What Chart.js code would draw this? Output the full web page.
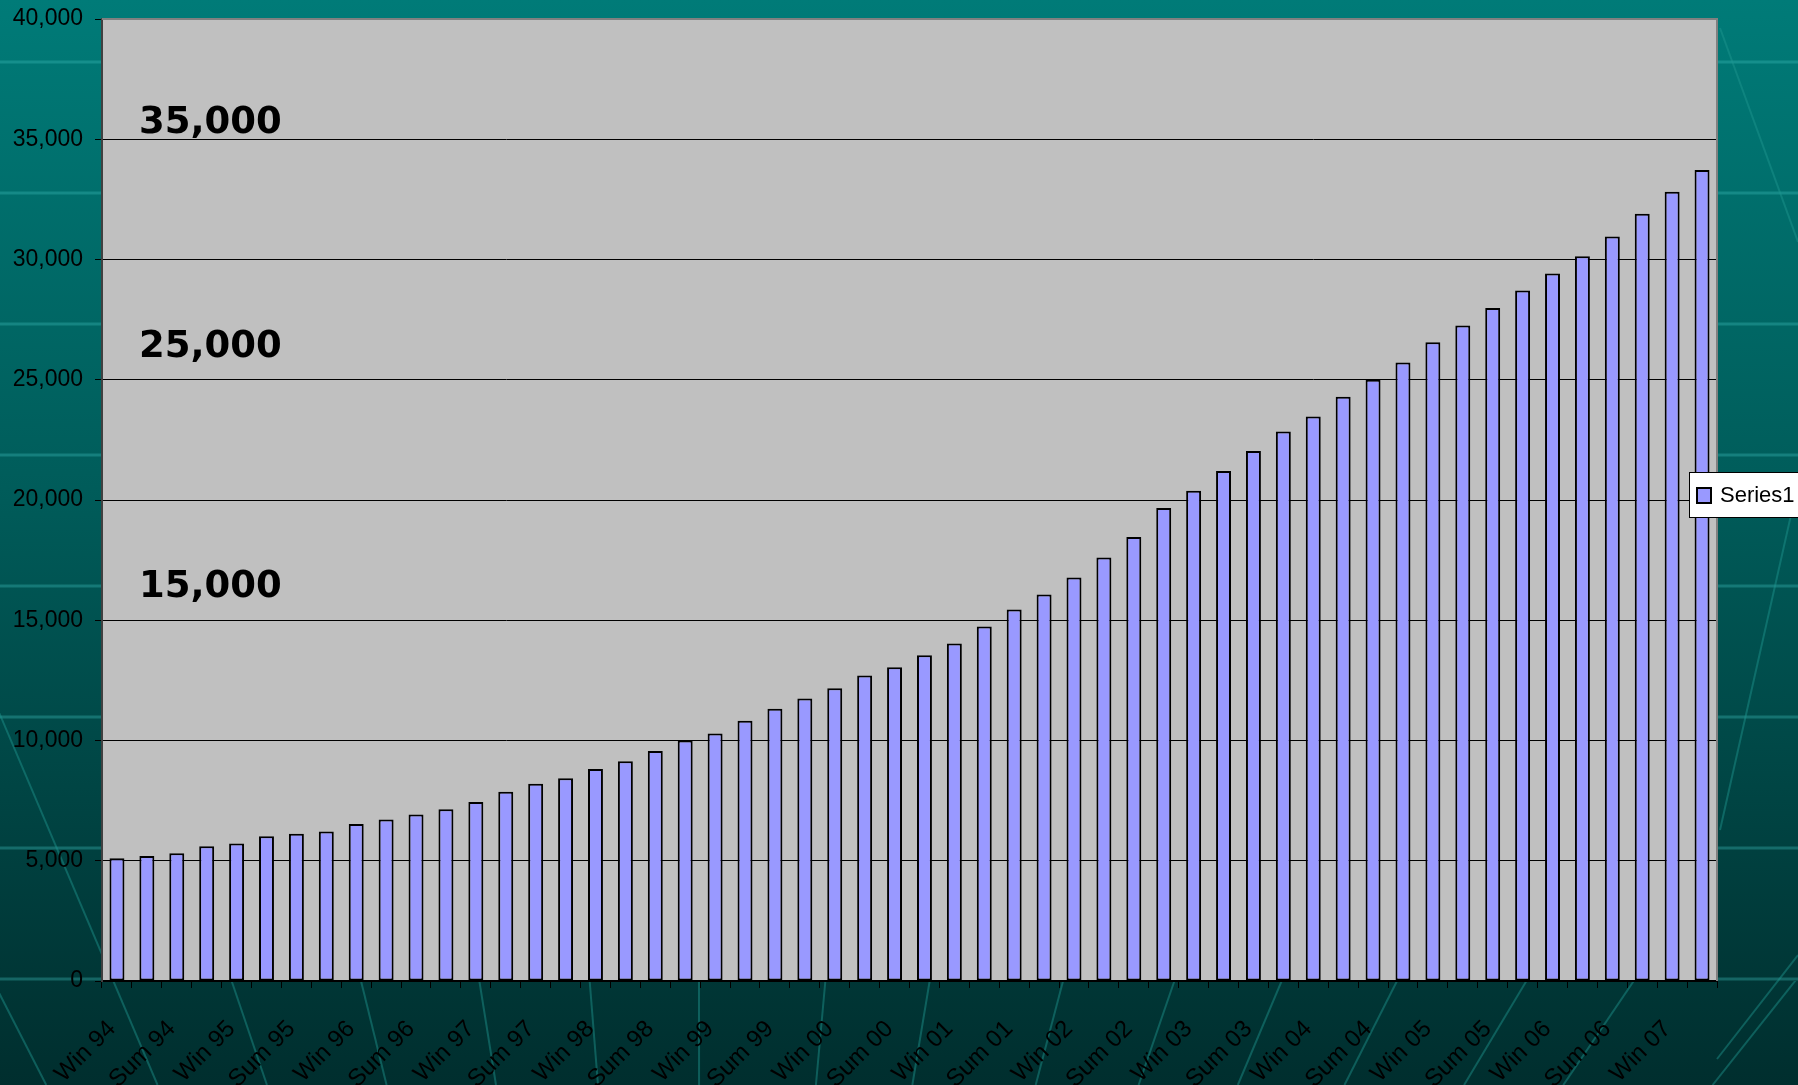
<!DOCTYPE html>
<html>
<head>
<meta charset="utf-8">
<script src="https://cdn.jsdelivr.net/npm/chart.js@4.4.1/dist/chart.umd.min.js"></script>
<style>
  html, body { margin: 0; padding: 0; background: #004f4d; }
  #wrap { width: 1798px; height: 1085px; position: relative; }
</style>
</head>
<body>
<div id="wrap"><canvas id="chart"></canvas></div>
<script>
// categories (only every other one gets a tick label, like the original)
const categories = [
  'Win 94', 'Spr 94', 'Sum 94', 'Fall 94',
  'Win 95', 'Spr 95', 'Sum 95', 'Fall 95',
  'Win 96', 'Spr 96', 'Sum 96', 'Fall 96',
  'Win 97', 'Spr 97', 'Sum 97', 'Fall 97',
  'Win 98', 'Spr 98', 'Sum 98', 'Fall 98',
  'Win 99', 'Spr 99', 'Sum 99', 'Fall 99',
  'Win 00', 'Spr 00', 'Sum 00', 'Fall 00',
  'Win 01', 'Spr 01', 'Sum 01', 'Fall 01',
  'Win 02', 'Spr 02', 'Sum 02', 'Fall 02',
  'Win 03', 'Spr 03', 'Sum 03', 'Fall 03',
  'Win 04', 'Spr 04', 'Sum 04', 'Fall 04',
  'Win 05', 'Spr 05', 'Sum 05', 'Fall 05',
  'Win 06', 'Spr 06', 'Sum 06', 'Fall 06',
  'Win 07', 'Spr 07'
];

// Series1 values
const series1 = [
  5100, 5200, 5310, 5600, 5720, 6020, 6120, 6220, 6530, 6720,
  6920, 7140, 7440, 7870, 8200, 8430, 8820, 9140, 9560, 10000,
  10290, 10820, 11320, 11750, 12170, 12700, 13050, 13540, 14030, 14740,
  15450, 16070, 16780, 17610, 18460, 19670, 20380, 21210, 22040, 22850,
  23470, 24290, 25000, 25720, 26560, 27260, 27980, 28710, 29420, 30140,
  30960, 31900, 32820, 33720
];

// big text notes on the left of the plot
const notes = ['35,000', '25,000', '15,000'];
const notesY = [133, 357, 597];

// background: gradient, faint lines, gray plot area
const backdrop = {
    id: 'backdrop',
    beforeDraw(chart) {
        const ctx = chart.ctx;
        const w = chart.width, h = chart.height;
        const a = chart.chartArea;
        ctx.save();
        const g = ctx.createLinearGradient(0, 0, 0, h);
        g.addColorStop(0, '#007b78');
        g.addColorStop(0.45, '#005c5a');
        g.addColorStop(1, '#002e2e');
        ctx.fillStyle = g;
        ctx.fillRect(0, 0, w, h);

        // horizontal stripes
        ctx.strokeStyle = 'rgba(60,190,185,0.35)';
        ctx.lineWidth = 3;
        for (let y = 62; y < h; y += 131) {
            ctx.beginPath();
            ctx.moveTo(0, y);
            ctx.lineTo(w, y);
            ctx.stroke();
        }

        // rays under the axis and in the left margin
        ctx.save();
        ctx.beginPath();
        ctx.rect(0, 0, a.left, h);
        ctx.rect(a.left, a.bottom, w - a.left, h - a.bottom);
        ctx.clip();
        const vx = 700, vy = 2360;
        const xs = [-5, 115, 233, 362, 480, 590, 699, 825, 929, 1062, 1173, 1280, 1395, 1524, 1631, 1792];
        ctx.strokeStyle = 'rgba(30,150,145,0.45)';
        ctx.lineWidth = 2;
        xs.forEach(x => {
            const k = (x - vx) / (985 - vy);
            const y0 = 600;
            ctx.beginPath();
            ctx.moveTo(x + k * (y0 - 985), y0);
            ctx.lineTo(x + k * (h - 985), h);
            ctx.stroke();
        });
        ctx.restore();

        // a few strokes in the right margin
        ctx.strokeStyle = 'rgba(30,150,145,0.45)';
        ctx.lineWidth = 2;
        [[1717, 1059, 1798, 955], [1720, 830, 1798, 484], [1720, 28, 1798, 242]].forEach(s => {
            ctx.beginPath();
            ctx.moveTo(s[0], s[1]);
            ctx.lineTo(s[2], s[3]);
            ctx.stroke();
        });

        ctx.fillStyle = '#c0c0c0';
        ctx.fillRect(a.left, a.top, a.right - a.left, a.bottom - a.top);
        ctx.restore();
    },
    afterDatasetsDraw(chart) {
        const ctx = chart.ctx;
        const a = chart.chartArea;
        ctx.save();
        ctx.strokeStyle = '#808080';
        ctx.lineWidth = 2;
        ctx.beginPath();
        ctx.moveTo(a.left, a.top);
        ctx.lineTo(a.right, a.top);
        ctx.lineTo(a.right, a.bottom);
        ctx.stroke();

        // notes
        ctx.fillStyle = '#000';
        ctx.font = 'bold 37px "DejaVu Sans"';
        ctx.textAlign = 'left';
        ctx.textBaseline = 'alphabetic';
        notes.forEach((t, i) => ctx.fillText(t, a.left + 37, notesY[i]));

        // legend box
        const ds = chart.data.datasets[0];
        ctx.fillStyle = '#fff';
        ctx.fillRect(1689, 472, 140, 45);
        ctx.strokeStyle = '#000';
        ctx.lineWidth = 1;
        ctx.strokeRect(1689.5, 472.5, 140, 45);
        ctx.fillStyle = ds.backgroundColor;
        ctx.fillRect(1697, 488, 14, 15);
        ctx.lineWidth = 2;
        ctx.strokeRect(1697, 488, 14, 15);
        ctx.fillStyle = '#000';
        ctx.font = '22px "Liberation Sans"';
        ctx.textBaseline = 'middle';
        ctx.fillText(ds.label, 1720, 496);
        ctx.restore();
    }
};

const ctx = document.getElementById('chart').getContext('2d');
new Chart(ctx, {
    type: 'bar',
    data: {
        labels: categories,
        datasets: [{
            label: 'Series1',
            data: series1,
            backgroundColor: '#9999ff',
            borderColor: '#000',
            borderWidth: 2,
            borderSkipped: false,
            categoryPercentage: 1,
            barPercentage: 0.5
        }]
    },
    options: {
        responsive: true,
        maintainAspectRatio: false,
        animation: false,
        layout: { padding: { top: 19, right: 81, left: 0, bottom: 0 } },
        plugins: {
            legend: { display: false },
            tooltip: { enabled: false }
        },
        scales: {
            x: {
                afterFit: s => { s.height = 104; },
                grid: {
                    drawOnChartArea: false,
                    color: '#000',
                    tickColor: '#000',
                    tickLength: 7,
                    offset: true
                },
                border: { color: '#000', width: 2 },
                ticks: {
                    autoSkip: false,
                    minRotation: 45,
                    maxRotation: 45,
                    color: '#000',
                    padding: 27,
                    labelOffset: -5,
                    font: { family: 'Liberation Sans', size: 24 },
                    callback: function(value, index) {
                        return index % 2 === 0 ? this.getLabelForValue(value) : '';
                    }
                }
            },
            y: {
                min: 0,
                max: 40000,
                afterFit: s => {
                    s.width = 102;
                    s.paddingTop = 10;
                    s.paddingBottom = 10;
                },
                grid: {
                    color: '#000',
                    tickColor: '#000',
                    tickLength: 7,
                    lineWidth: 1
                },
                border: { color: '#404040', width: 2 },
                ticks: {
                    stepSize: 5000,
                    color: '#000',
                    padding: 12,
                    font: { family: 'Liberation Sans', size: 23 },
                    callback: v => v.toLocaleString('en-US')
                }
            }
        }
    },
    plugins: [backdrop]
});
</script>
</body>
</html>
